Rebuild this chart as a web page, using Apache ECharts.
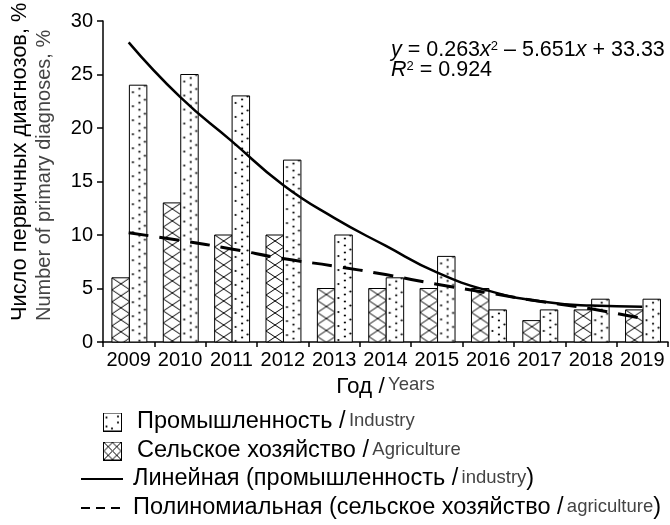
<!DOCTYPE html>
<html>
<head>
<meta charset="utf-8">
<script src="https://cdn.jsdelivr.net/npm/echarts@6/dist/echarts.min.js"></script>
<style>html,body{margin:0;padding:0;background:#fff;}#chart{width:670px;height:525px;}</style>
</head>
<body>
<div id="chart"></div>
<script>
// ---------- data ----------
const categories = ['2009','2010','2011','2012','2013','2014','2015','2016','2017','2018','2019'];
const industry = [24, 25, 23, 17, 10, 6, 8, 3, 3, 4, 4];
const agriculture = [6, 13, 10, 10, 5, 5, 5, 5, 2, 3, 3];
const industryTrend = [28.0, 22.9, 18.8, 14.7, 11.6, 9.0, 6.5, 4.8, 3.8, 3.4, 3.3];
const agricultureTrend = [10.2, 9.5, 8.7, 7.8, 7.1, 6.3, 5.4, 4.6, 3.8, 3.1, 2.2];
const yMin = 0, yMax = 30, yStep = 5;

const names = {
  ind: 'Промышленность / Industry',
  agr: 'Сельское хозяйство / Agriculture',
  indT: 'Линейная (промышленность / industry)',
  agrT: 'Полиномиальная (сельское хозяйство / agriculture)'
};
const legendParts = {};
legendParts[names.ind] = ['Промышленность /', 'Industry', ''];
legendParts[names.agr] = ['Сельское хозяйство /', 'Agriculture', ''];
legendParts[names.indT] = ['Линейная (промышленность /', 'industry', ')'];
legendParts[names.agrT] = ['Полиномиальная (сельское хозяйство /', 'agriculture', ')'];

// ---------- fonts ----------
const MAIN = '"Liberation Sans", Arial, Helvetica, sans-serif';
function hasFont(f) {
  const c = document.createElement('canvas').getContext('2d');
  c.font = '20px monospace';
  const w0 = c.measureText('Industry Agriculture').width;
  c.font = '20px "' + f + '", monospace';
  return Math.abs(c.measureText('Industry Agriculture').width - w0) > 0.5;
}
const narrowOK = hasFont('Liberation Sans Narrow');
const NARROW = narrowOK ? '"Liberation Sans Narrow", ' + MAIN : MAIN;
const narrowSize = narrowOK ? 21.5 : 18.5;
const GREY = '#444';
const RU_LEG = 23.5;
const RU_AX = 22.5;

// ---------- patterns ----------
function dotsTile() {
  const c = document.createElement('canvas'); c.width = 18; c.height = 14;
  const g = c.getContext('2d'); g.fillStyle = '#fff'; g.fillRect(0, 0, 18, 14);
  g.fillStyle = '#000';
  [[10, 3.5], [10, 10.5], [3.5, 7], [15.5, 0.5], [15.5, 14.5]].forEach(p => { g.beginPath(); g.arc(p[0], p[1], 1.1, 0, Math.PI * 2); g.fill(); });
  return c;
}
function crossTile() {
  const c = document.createElement('canvas'); c.width = 18; c.height = 12;
  const g = c.getContext('2d'); g.fillStyle = '#fff'; g.fillRect(0, 0, 18, 12);
  g.strokeStyle = '#000'; g.lineWidth = 1;
  g.beginPath(); g.moveTo(0, 0); g.lineTo(18, 12); g.moveTo(18, 0); g.lineTo(0, 12); g.stroke();
  return c;
}
const dotPattern = { image: dotsTile(), repeat: 'repeat' };
const crossPattern = { image: crossTile(), repeat: 'repeat' };

// ---------- legend icons ----------
function boxIcon(kind) {
  const c = document.createElement('canvas'); c.width = 29; c.height = 19;
  const g = c.getContext('2d');
  g.fillStyle = '#fff'; g.fillRect(0.5, 0.5, 18, 18);
  g.strokeStyle = '#000'; g.fillStyle = '#000'; g.lineWidth = 1;
  if (kind === 'dots') {
    [[3.5, 5], [3.5, 14], [15, 4], [15, 10], [9, 16]].forEach(p => { g.beginPath(); g.arc(p[0], p[1], 1.1, 0, Math.PI * 2); g.fill(); });
  } else {
    g.beginPath(); g.moveTo(1, 1); g.lineTo(18, 18); g.moveTo(18, 1); g.lineTo(1, 18);
    g.moveTo(9.5, 1); g.lineTo(18, 9.5); g.lineTo(9.5, 18); g.lineTo(1, 9.5); g.closePath(); g.stroke();
  }
  g.strokeRect(0.5, 0.5, 18, 18);
  return 'image://' + c.toDataURL();
}
function lineIcon(dashed) {
  const c = document.createElement('canvas'); c.width = 47; c.height = 20;
  const g = c.getContext('2d');
  g.strokeStyle = '#000'; g.lineWidth = 2;
  if (dashed) g.setLineDash([9, 6]);
  g.beginPath(); g.moveTo(0, 10); g.lineTo(42, 10); g.stroke();
  return 'image://' + c.toDataURL();
}

const legRich = {
  ru: { fontFamily: MAIN, fontSize: RU_LEG, color: '#000', lineHeight: 22 },
  en: { fontFamily: NARROW, fontSize: narrowSize, color: GREY, lineHeight: 22, padding: [0, 0, 2, 0] }
};
const axRich = {
  ru: { fontFamily: MAIN, fontSize: RU_AX, color: '#000', lineHeight: 22 },
  en: { fontFamily: NARROW, fontSize: narrowSize, color: GREY, lineHeight: 22, padding: [0, 0, 2, 0] }
};
function legendFmt(name) {
  const p = legendParts[name];
  return '{ru|' + p[0] + '} {en|' + p[1] + '}' + (p[2] ? '{ru|' + p[2] + '}' : '');
}

// ---------- bars via custom series ----------
function barRenderer(side, pattern) {
  return function (params, api) {
    const idx = api.value(0);
    const base = api.coord([idx, 0]);
    const top = api.coord([idx, api.value(1)]);
    const band = api.size([1, 0])[0];
    const w = band * 0.34;
    const left = side < 0 ? base[0] - w + 0.7 : base[0] + 0.7;
    const h = base[1] - top[1];
    return {
      type: 'rect',
      x: left, y: top[1],
      shape: { x: 0, y: 0, width: w, height: h },
      style: { fill: pattern, stroke: '#000', lineWidth: 1 }
    };
  };
}

const chart = echarts.init(document.getElementById('chart'), null, { renderer: 'canvas' });
chart.setOption({
  animation: false,
  backgroundColor: '#fff',
  textStyle: { fontFamily: MAIN },
  grid: { left: 103, right: 2, top: 21, bottom: 183, containLabel: false },
  xAxis: {
    type: 'category',
    data: categories,
    boundaryGap: true,
    axisLine: { lineStyle: { color: '#000', width: 1.5 } },
    axisTick: { show: true, length: 5, lineStyle: { color: '#000', width: 1.5 } },
    axisLabel: { color: '#000', fontSize: 20, fontFamily: MAIN, margin: 8, interval: 0 },
    name: '{ru|Год /} {en|Years}',
    nameLocation: 'middle',
    nameGap: 32,
    nameTextStyle: { rich: axRich }
  },
  yAxis: {
    type: 'value',
    min: yMin, max: yMax, interval: yStep,
    splitLine: { show: false },
    axisLine: { show: true, lineStyle: { color: '#000', width: 1.5 } },
    axisTick: { show: true, length: 6, lineStyle: { color: '#000', width: 1.5 } },
    axisLabel: { color: '#000', fontSize: 20, fontFamily: MAIN, margin: 10 }
  },
  legend: [
    {
      orient: 'vertical', left: 103, top: 410, padding: 0, itemWidth: 29, itemHeight: 19, itemGap: 5,
      selectedMode: false,
      data: [{ name: names.ind, icon: boxIcon('dots') }, { name: names.agr, icon: boxIcon('cross') }],
      formatter: legendFmt, textStyle: { rich: legRich, padding: 0 }
    },
    {
      orient: 'vertical', left: 81, top: 467, padding: 0, itemWidth: 47, itemHeight: 20, itemGap: 5,
      selectedMode: false,
      data: [{ name: names.indT, icon: lineIcon(false) }, { name: names.agrT, icon: lineIcon(true) }],
      formatter: legendFmt, textStyle: { rich: legRich, padding: 0 }
    }
  ],
  graphic: [
    {
      type: 'text', x: 7, y: 321, rotation: Math.PI / 2,
      style: {
        text: '{ru|Число первичных диагнозов, %}\n{enr|Number of primary diagnoses, %}',
        align: 'left', verticalAlign: 'top',
        rich: {
          ru: { fontFamily: MAIN, fontSize: 21.8, fill: '#000', lineHeight: 25 },
          enr: { fontFamily: MAIN, fontSize: 20, fill: GREY, lineHeight: 25 }
        }
      }
    },
    {
      type: 'text', x: 391, y: 40,
      style: {
        text: '{i|y}{n| = 0.263}{i|x}{s|2}{n| – 5.651}{i|x}{n| + 33.33}\n{i|R}{s|2}{n| = 0.924}',
        align: 'left', verticalAlign: 'top',
        rich: {
          n: { fontFamily: MAIN, fontSize: 21.5, fill: '#000', lineHeight: 20 },
          i: { fontFamily: MAIN, fontSize: 21.5, fontStyle: 'italic', fill: '#000', lineHeight: 20 },
          s: { fontFamily: MAIN, fontSize: 13, fill: '#000', lineHeight: 20, verticalAlign: 'top' }
        }
      }
    }
  ],
  series: [
    {
      name: names.agr, type: 'custom', z: 2,
      renderItem: barRenderer(-1, crossPattern),
      encode: { x: 0, y: 1 },
      data: categories.map((c, i) => [i, agriculture[i]])
    },
    {
      name: names.ind, type: 'custom', z: 2,
      renderItem: barRenderer(1, dotPattern),
      encode: { x: 0, y: 1 },
      data: categories.map((c, i) => [i, industry[i]])
    },
    {
      name: names.indT, type: 'line', smooth: true, symbol: 'none', z: 5,
      lineStyle: { color: '#000', width: 2.5, type: 'solid' },
      itemStyle: { color: '#000' },
      data: industryTrend
    },
    {
      name: names.agrT, type: 'line', smooth: true, symbol: 'none', z: 5,
      lineStyle: { color: '#000', width: 3, type: [20, 11] },
      itemStyle: { color: '#000' },
      data: agricultureTrend
    }
  ]
});
</script>
</body>
</html>
